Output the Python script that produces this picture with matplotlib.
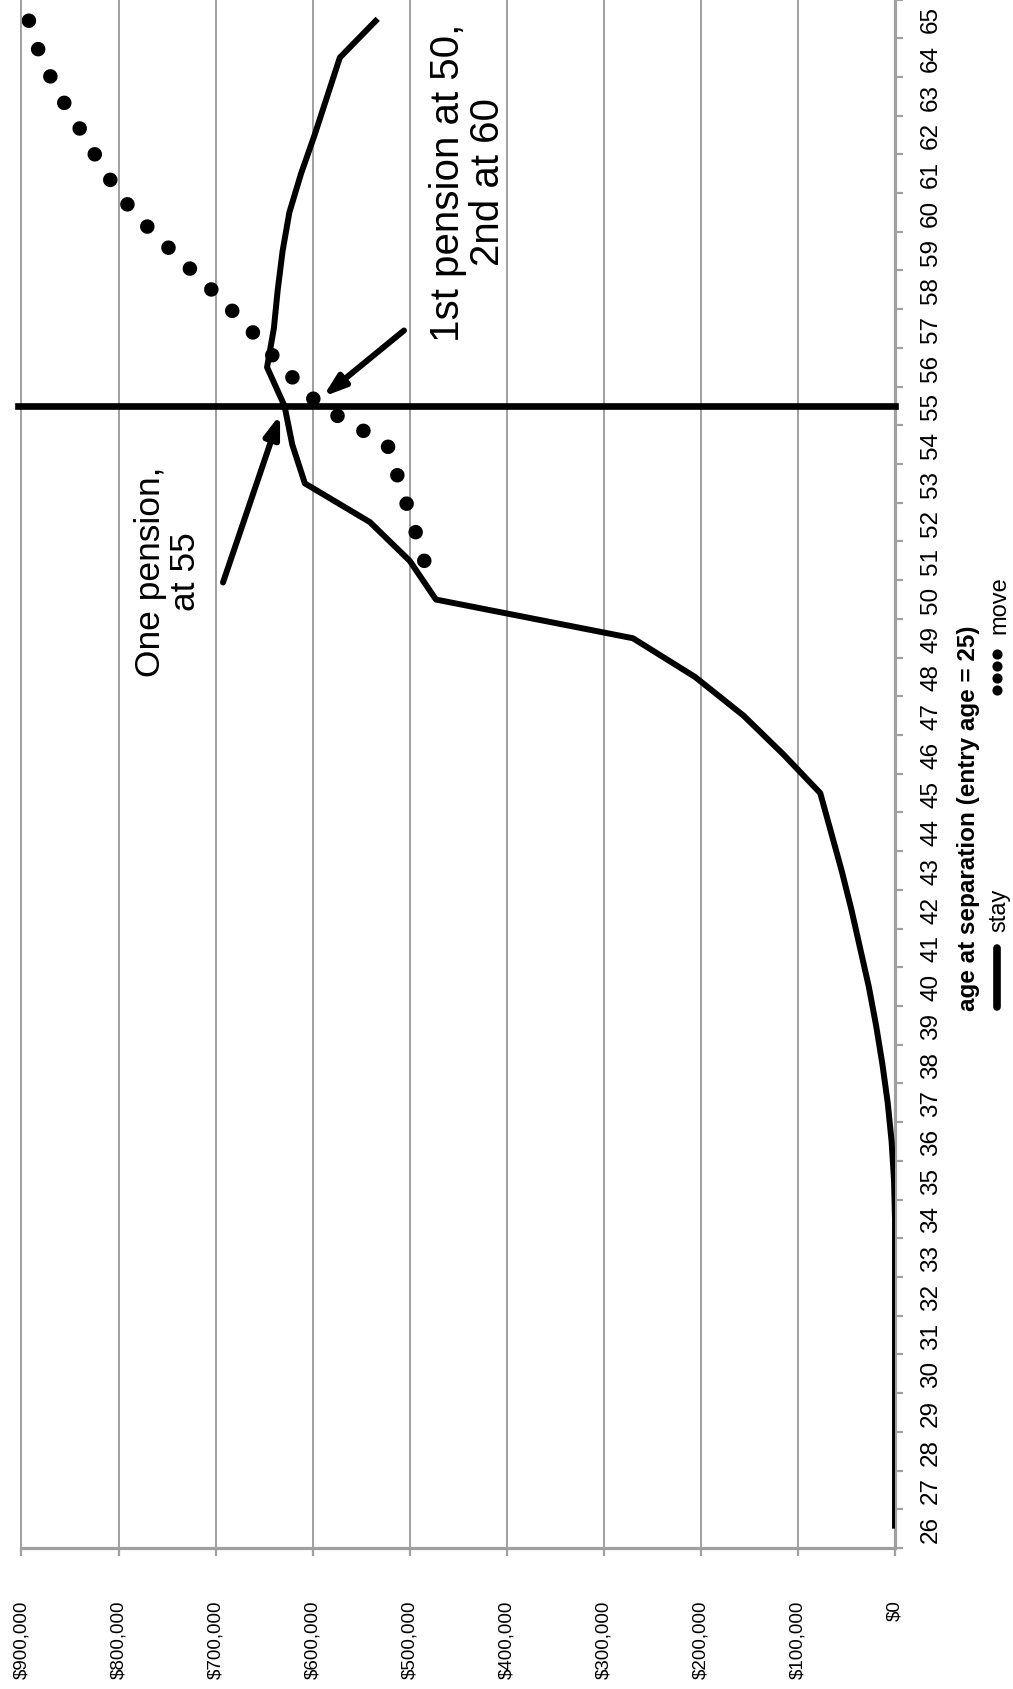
import matplotlib
matplotlib.use("Agg")
import matplotlib.pyplot as plt
from matplotlib.lines import Line2D
from matplotlib.ticker import FixedLocator, FuncFormatter

plt.rcParams['font.family'] = ['Liberation Sans', 'DejaVu Sans']

# ---------------- data ----------------
ages = list(range(26, 66))
stay = [0, 0, 0, 0, 0, 0, 0, 0, 0,
        1000, 3500, 7500, 13000, 19500, 27000, 36000, 45000, 55000, 66000,
        77000, 115000, 156000, 206000, 270000, 473000, 500000, 541000, 608000,
        621000, 629000, 647000, 640000, 636000, 631000, 624000, 612000, 598000,
        585000, 572000, 533000]
move_ages = [51, 52, 53, 54, 55, 56, 57, 58, 59, 60, 61, 62, 63, 64, 65]
move = [485000, 497000, 510000, 523000, 592000, 631000, 665000, 704000,
        745000, 785000, 813000, 836000, 860000, 880000, 893000]
value_ticks = [0, 100000, 200000, 300000, 400000, 500000, 600000, 700000,
               800000, 900000]
marked_age = 55
x_title = "age at separation (entry age = 25)"
series_names = ["stay", "move"]
note_one = "One pension,\nat 55"
note_two = "1st pension at 50,\n2nd at 60"

# ---------------- figure ----------------
W, H = 1013, 1690
fig = plt.figure(figsize=(W / 100, H / 100), dpi=100, facecolor='white')

def fx(px):
    return px / W

def fy(py):
    return 1 - py / H

left_px, right_px, top_px, bottom_px = 21.5, 895, 0.5, 1549
ax = fig.add_axes([fx(left_px), fy(bottom_px), fx(right_px) - fx(left_px),
                   fy(top_px) - fy(bottom_px)])
ax.set_facecolor('white')

grid_col = '#a0a0a0'
ax.set_xlim(900000, 0)
ax.set_ylim(25.5, 65.5)

for s in ['left', 'top']:
    ax.spines[s].set_visible(False)
for s in ['right', 'bottom']:
    ax.spines[s].set_color(grid_col)
    ax.spines[s].set_linewidth(2.3)

# value axis (bottom)
ax.set_xticks(value_ticks)
ax.xaxis.set_major_formatter(FuncFormatter(lambda v, p: "${:,.0f}".format(v)))
ax.tick_params(axis='x', which='major', length=6, width=1.6, color=grid_col,
               direction='out', labelrotation=90, pad=31, labelsize=13.5,
               labelcolor='black')
ax.grid(axis='x', color=grid_col, linewidth=1.4)
for gl in ax.get_xgridlines():
    gl.set_clip_on(False)
ax.set_axisbelow(True)

# category axis (right)
ax.yaxis.tick_right()
ax.yaxis.set_major_locator(FixedLocator(ages))
ax.yaxis.set_minor_locator(FixedLocator([a - 0.5 for a in ages] + [ages[-1] + 0.5]))
ax.set_yticklabels([str(a) for a in ages])
ax.tick_params(axis='y', which='major', length=0, pad=18, labelrotation=90,
               labelsize=17.5, labelcolor='black')
ax.tick_params(axis='y', which='minor', length=6, width=1.6, color=grid_col,
               direction='out')
for lab in ax.get_yticklabels():
    lab.set_verticalalignment('center')

# series
ax.plot(stay, ages, color='black', lw=4.3, solid_joinstyle='round',
        solid_capstyle='butt', zorder=3)
ax.plot(move, move_ages, color='black', lw=10.5, linestyle=(0, (0.001, 2.05)),
        dash_capstyle='round', zorder=3)

# marked age line
ax.axhline(marked_age, xmin=-0.004, xmax=1.0, color='black', lw=4.8,
           clip_on=False, zorder=4)

# annotations
ax.text(749000, 50.75, note_one, rotation=90, ha='center', va='center',
        multialignment='center', fontsize=25.5, linespacing=1.1)
ax.annotate('', xy=(633600, 54.78), xytext=(692400, 50.44),
            arrowprops=dict(arrowstyle='-|>,head_length=0.5,head_width=0.17',
                            lw=4.3, color='black', mutation_scale=26,
                            shrinkA=0, shrinkB=0), zorder=5)
ax.text(440000, 60.80, note_two, rotation=90, ha='center', va='center',
        multialignment='center', fontsize=29, linespacing=1.05)
ax.annotate('', xy=(589300, 55.24), xytext=(505900, 56.95),
            arrowprops=dict(arrowstyle='-|>,head_length=0.5,head_width=0.17',
                            lw=4.3, color='black', mutation_scale=26,
                            shrinkA=0, shrinkB=0), zorder=5)

# axis title
fig.text(fx(968), fy(818), x_title, rotation=90, ha='center', va='center',
         fontsize=17.5, fontweight='bold')

# legend (rotated, drawn by hand)
fig.add_artist(Line2D([fx(997), fx(997)], [fy(949), fy(1008)],
                      transform=fig.transFigure, color='black', lw=5.5,
                      solid_capstyle='round'))
fig.text(fx(999), fy(910), series_names[0], rotation=90, ha='center',
         va='center', fontsize=17)
fig.add_artist(Line2D([fx(997)] * 4, [fy(655), fy(667), fy(679), fy(691)],
                      transform=fig.transFigure, color='black', lw=0,
                      marker='o', markersize=7.3, markeredgewidth=0))
fig.text(fx(999), fy(605), series_names[1], rotation=90, ha='center',
         va='center', fontsize=17)

fig.savefig('out.png', dpi=100, facecolor='white')
